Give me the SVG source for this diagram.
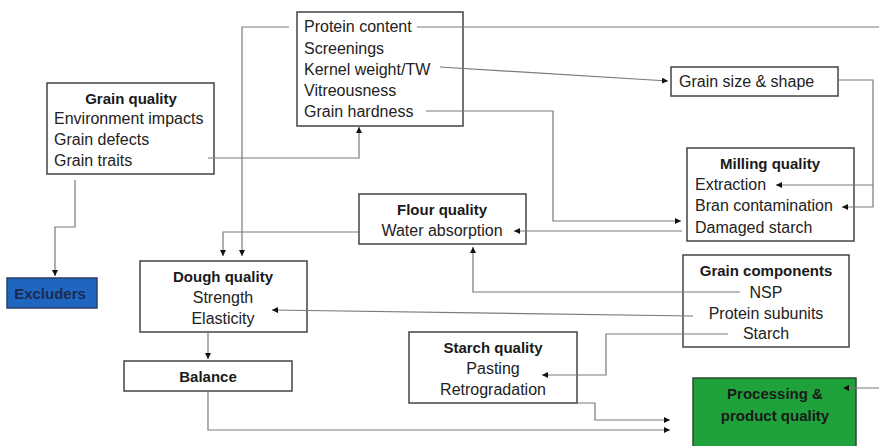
<svg xmlns="http://www.w3.org/2000/svg" width="879" height="446" viewBox="0 0 879 446">
<style>
  .box{fill:#ffffff;stroke:#444444;stroke-width:1.5}
  .t{font-family:"Liberation Sans",Arial,sans-serif;font-size:16px;fill:#222222}
  .b{font-family:"Liberation Sans",Arial,sans-serif;font-size:15px;font-weight:bold;fill:#1a1a1a}
  .c{text-anchor:middle}
  .conn path{fill:none;stroke:#7a7a7a;stroke-width:1.2}
</style>
<defs>
  <marker id="arr" viewBox="0 0 6 6" refX="6" refY="3" markerWidth="6" markerHeight="6" markerUnits="userSpaceOnUse" orient="auto">
    <path d="M0,0 L6,3 L0,6 Z" fill="#111111"/>
  </marker>
</defs>
<rect width="879" height="446" fill="#ffffff"/>

<g id="grain-traits">
  <rect class="box" x="297" y="12" width="166" height="114"/>
  <text class="t" x="304" y="32">Protein content</text>
  <text class="t" x="304" y="54">Screenings</text>
  <text class="t" x="304" y="75">Kernel weight/TW</text>
  <text class="t" x="304" y="96">Vitreousness</text>
  <text class="t" x="304" y="117">Grain hardness</text>
</g>

<g id="grain-quality">
  <rect class="box" x="47" y="83" width="167" height="91"/>
  <text class="b c" x="131" y="104">Grain quality</text>
  <text class="t" x="54" y="124">Environment impacts</text>
  <text class="t" x="54" y="145">Grain defects</text>
  <text class="t" x="54" y="166">Grain traits</text>
</g>

<g id="excluders">
  <rect x="7" y="278" width="90" height="30" fill="#1f66c1" stroke="#2a3f66" stroke-width="1.5"/>
  <text class="b c" x="50" y="299" style="fill:#1b2b52">Excluders</text>
</g>

<g id="grain-size">
  <rect class="box" x="671" y="67" width="167" height="29"/>
  <text class="t" x="679" y="87">Grain size &amp; shape</text>
</g>

<g id="milling-quality">
  <rect class="box" x="687" y="148" width="167" height="93"/>
  <text class="b c" x="770" y="169">Milling quality</text>
  <text class="t" x="695" y="190">Extraction</text>
  <text class="t" x="695" y="211">Bran contamination</text>
  <text class="t" x="695" y="233">Damaged starch</text>
</g>

<g id="flour-quality">
  <rect class="box" x="359" y="194" width="167" height="50"/>
  <text class="b c" x="442" y="215">Flour quality</text>
  <text class="t c" x="442" y="236">Water absorption</text>
</g>

<g id="dough-quality">
  <rect class="box" x="140" y="261" width="167" height="71"/>
  <text class="b c" x="223" y="282">Dough quality</text>
  <text class="t c" x="223" y="303">Strength</text>
  <text class="t c" x="223" y="324">Elasticity</text>
</g>

<g id="grain-components">
  <rect class="box" x="683" y="255" width="166" height="92"/>
  <text class="b c" x="766" y="276">Grain components</text>
  <text class="t c" x="766" y="298">NSP</text>
  <text class="t c" x="766" y="319">Protein subunits</text>
  <text class="t c" x="766" y="339">Starch</text>
</g>

<g id="balance">
  <rect class="box" x="124" y="361" width="168" height="30"/>
  <text class="b c" x="208" y="382">Balance</text>
</g>

<g id="starch-quality">
  <rect class="box" x="409" y="332" width="168" height="71"/>
  <text class="b c" x="493" y="353">Starch quality</text>
  <text class="t c" x="493" y="374">Pasting</text>
  <text class="t c" x="493" y="395">Retrogradation</text>
</g>

<g id="processing">
  <rect x="693" y="378" width="163" height="80" fill="#1fa23c" stroke="#2d4a2d" stroke-width="1.5"/>
  <text class="b c" x="775" y="399">Processing &amp;</text>
  <text class="b c" x="775" y="421">product quality</text>
</g>

<g class="conn" id="connectors">
  <path d="M208,158 H359 V127" marker-end="url(#arr)"/>
  <path d="M75,180 V227 H55 V276" marker-end="url(#arr)"/>
  <path d="M289,27 H242 V256" marker-end="url(#arr)"/>
  <path d="M358,232 H223 V256" marker-end="url(#arr)"/>
  <path d="M208,332 V359" marker-end="url(#arr)"/>
  <path d="M208,391 V430 H670" marker-end="url(#arr)"/>
  <path d="M577,403 H595 V420 H670" marker-end="url(#arr)"/>
  <path d="M728,334 H606 V375 H542" marker-end="url(#arr)"/>
  <path d="M740,292 H473 V247" marker-end="url(#arr)"/>
  <path d="M693,316 L272,310" marker-end="url(#arr)"/>
  <path d="M682,231 H514" marker-end="url(#arr)"/>
  <path d="M426,111 H553 V221 H681" marker-end="url(#arr)"/>
  <path d="M440,67 L668,81" marker-end="url(#arr)"/>
  <path d="M838,80 H873 V207 H842" marker-end="url(#arr)"/>
  <path d="M873,185 H776" marker-end="url(#arr)"/>
  <path d="M417,27 H881 V388 H843" marker-end="url(#arr)"/>
</g>
</svg>
